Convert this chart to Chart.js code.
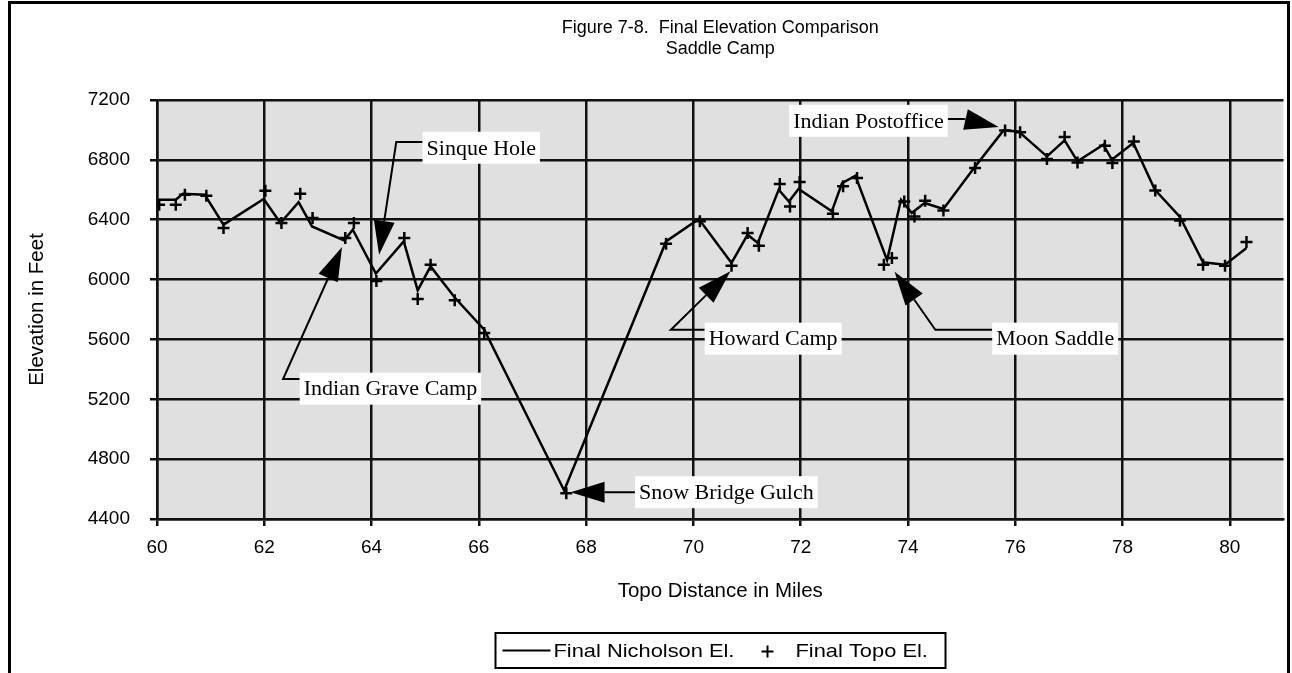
<!DOCTYPE html>
<html>
<head>
<meta charset="utf-8">
<title>Final Elevation Comparison - Saddle Camp</title>
<script src="https://cdn.jsdelivr.net/npm/chart.js@4.4.1/dist/chart.umd.min.js"></script>
<style>
  html, body { margin: 0; padding: 0; background: #fff; }
  canvas { display: block; }
</style>
</head>
<body>
<canvas id="elevChart" width="1292" height="673"></canvas>
<script>
// Nicholson profile (solid line)
const nicholsonMiles = [60.04, 60.35, 60.48, 60.89, 61.24, 61.99, 62.30, 62.64, 62.89, 63.49,
  63.65, 64.08, 64.60, 64.86, 65.10, 65.55, 66.10, 67.59, 69.49, 70.10,
  70.71, 71.01, 71.20, 71.59, 71.78, 71.96, 72.58, 72.77, 73.02, 73.61,
  73.87, 74.07, 74.31, 74.66, 75.22, 75.78, 76.06, 76.59, 76.92, 77.16,
  77.64, 77.80, 78.20, 78.60, 79.07, 79.50, 79.91, 80.31];
const nicholsonElev = [6534, 6534, 6574, 6567, 6367, 6538, 6378, 6518, 6355, 6262,
  6333, 6040, 6255, 5928, 6088, 5880, 5665, 4590, 6255, 6405,
  6111, 6300, 6244, 6601, 6522, 6605, 6456, 6645, 6694, 6130,
  6534, 6445, 6512, 6472, 6740, 6997, 6990, 6823, 6930, 6790,
  6901, 6801, 6913, 6601, 6418, 6115, 6099, 6211];

// Topo map elevations (+ markers)
const topoMiles = [60.04, 60.35, 60.52, 60.92, 61.24, 62.02, 62.32, 62.67, 62.90, 63.51,
  63.67, 64.09, 64.61, 64.86, 65.10, 65.55, 66.10, 67.63, 69.49, 70.12,
  70.71, 71.01, 71.22, 71.61, 71.80, 71.98, 72.60, 72.79, 73.05, 73.55,
  73.70, 73.93, 74.12, 74.32, 74.66, 75.25, 75.81, 76.09, 76.59, 76.92,
  77.16, 77.67, 77.81, 78.21, 78.61, 79.07, 79.50, 79.91, 80.31];
const topoElev = [6500, 6500, 6567, 6560, 6345, 6594, 6378, 6574, 6411, 6278,
  6378, 5990, 6278, 5870, 6099, 5861, 5643, 4572, 6240, 6389,
  6093, 6311, 6226, 6639, 6489, 6652, 6440, 6623, 6679, 6099,
  6144, 6522, 6422, 6527, 6462, 6746, 6997, 6984, 6806, 6953,
  6783, 6895, 6779, 6923, 6596, 6395, 6099, 6093, 6251];

const mileTicks = [60, 62, 64, 66, 68, 70, 72, 74, 76, 78, 80];
const elevTicks = [4400, 4800, 5200, 5600, 6000, 6400, 6800, 7200];

// place names: box edge, leader bends and arrow tip, all in miles / feet
const callouts = [
  { text: 'Sinque Hole', side: 'left', box: [64.95, 6881],
    leader: [[64.95, 6919], [64.46, 6919], [64.14, 6166]] },
  { text: 'Indian Grave Camp', side: 'left', box: [62.66, 5271],
    leader: [[62.66, 5335], [62.35, 5335], [63.45, 6218]] },
  { text: 'Snow Bridge Gulch', side: 'left', box: [68.91, 4579],
    leader: [[68.91, 4579], [67.71, 4578]] },
  { text: 'Howard Camp', side: 'left', box: [70.21, 5605],
    leader: [[70.21, 5665], [69.58, 5665], [70.69, 6055]] },
  { text: 'Moon Saddle', side: 'left', box: [75.57, 5605],
    leader: [[75.57, 5665], [74.51, 5665], [73.75, 6053]] },
  { text: 'Indian Postoffice', side: 'right', box: [74.74, 7061],
    leader: [[74.74, 7073], [75.04, 7073], [75.69, 7020]] }
];

const SANS = '"Liberation Sans", Arial, sans-serif';
const SERIF = '"Liberation Serif", "Times New Roman", serif';
const INK = '#111';

Chart.defaults.font.family = SANS;
Chart.defaults.color = '#000';

const plotBackground = {
  id: 'plotBackground',
  beforeDraw(chart) {
    const { ctx, chartArea: a } = chart;
    ctx.save();
    ctx.fillStyle = '#e0e0e0';
    ctx.fillRect(a.left, a.top, a.right - a.left, a.bottom - a.top);
    ctx.restore();
  }
};

const calloutLabels = {
  id: 'calloutLabels',
  afterDatasetsDraw(chart) {
    const { ctx, scales: { x, y } } = chart;
    ctx.save();
    ctx.strokeStyle = '#000';
    ctx.lineWidth = 2;
    ctx.font = '22px ' + SERIF;
    ctx.textBaseline = 'middle';
    callouts.forEach(c => {
      const pts = c.leader.map(p => [x.getPixelForValue(p[0]), y.getPixelForValue(p[1])]);
      const tip = pts[pts.length - 1];
      const prev = pts[pts.length - 2];
      const ang = Math.atan2(tip[1] - prev[1], tip[0] - prev[0]);
      const len = 34, half = 10.5;
      const bx = tip[0] - len * Math.cos(ang);
      const by = tip[1] - len * Math.sin(ang);

      ctx.beginPath();
      ctx.moveTo(pts[0][0], pts[0][1]);
      for (let i = 1; i < pts.length - 1; i++) ctx.lineTo(pts[i][0], pts[i][1]);
      ctx.lineTo(bx, by);
      ctx.stroke();

      ctx.fillStyle = '#000';
      ctx.beginPath();
      ctx.moveTo(tip[0], tip[1]);
      ctx.lineTo(bx + half * Math.sin(ang), by - half * Math.cos(ang));
      ctx.lineTo(bx - half * Math.sin(ang), by + half * Math.cos(ang));
      ctx.closePath();
      ctx.fill();

      const w = ctx.measureText(c.text).width + 8;
      const h = 32;
      const edge = x.getPixelForValue(c.box[0]);
      const cy = y.getPixelForValue(c.box[1]);
      const left = c.side === 'left' ? edge : edge - w;
      ctx.fillStyle = '#fff';
      ctx.fillRect(left, cy - h / 2, w, h);
      ctx.fillStyle = '#000';
      ctx.fillText(c.text, left + 4, cy + 1);
    });
    ctx.restore();
  }
};

// outer frame plus the boxed legend under the x axis title
const frameAndLegend = {
  id: 'frameAndLegend',
  afterDraw(chart) {
    const { ctx, height, chartArea: a } = chart;
    const [lineSet, topoSet] = chart.data.datasets;
    ctx.save();
    ctx.strokeStyle = '#000';
    ctx.lineWidth = 3;
    ctx.beginPath();
    ctx.moveTo(9.5, height);
    ctx.lineTo(9.5, 2.5);
    ctx.lineTo(1288.5, 2.5);
    ctx.lineTo(1288.5, height);
    ctx.stroke();

    const boxW = 450, boxH = 35;
    const left = Math.round((a.left + a.right) / 2 - boxW / 2) + 0.5;
    const cy = chart.scales.x.bottom + 19.5;
    ctx.lineWidth = 2;
    ctx.strokeRect(left, cy - boxH / 2, boxW, boxH);

    ctx.lineWidth = lineSet.borderWidth - 0.5;
    ctx.beginPath();
    ctx.moveTo(left + 7, cy);
    ctx.lineTo(left + 55, cy);
    ctx.stroke();

    ctx.lineWidth = 2;
    ctx.beginPath();
    ctx.moveTo(left + 266, cy + 1);
    ctx.lineTo(left + 278, cy + 1);
    ctx.moveTo(left + 272, cy - 5);
    ctx.lineTo(left + 272, cy + 7);
    ctx.stroke();

    ctx.fillStyle = '#000';
    ctx.font = '19px ' + SANS;
    ctx.textBaseline = 'middle';
    [[lineSet.label, left + 58], [topoSet.label, left + 300]].forEach(([txt, tx]) => {
      ctx.save();
      ctx.translate(tx, cy + 1);
      ctx.scale(1.15, 1);
      ctx.fillText(txt, 0, 0);
      ctx.restore();
    });
    ctx.restore();
  }
};

new Chart(document.getElementById('elevChart'), {
  type: 'scatter',
  data: {
    datasets: [{
      label: 'Final Nicholson El.',
      data: nicholsonMiles.map((m, i) => ({ x: m, y: nicholsonElev[i] })),
      showLine: true,
      borderColor: '#000',
      backgroundColor: '#000',
      borderWidth: 2.5,
      pointRadius: 0,
      tension: 0
    }, {
      label: 'Final Topo El.',
      data: topoMiles.map((m, i) => ({ x: m, y: topoElev[i] })),
      showLine: false,
      borderColor: '#000',
      backgroundColor: '#000',
      borderWidth: 2.5,
      pointStyle: 'cross',
      pointRadius: 6,
      pointBorderWidth: 2.5
    }]
  },
  options: {
    responsive: false,
    devicePixelRatio: 1,
    animation: false,
    layout: { padding: { left: 12, right: -1, top: 4, bottom: 42 } },
    plugins: {
      title: {
        display: true,
        fullSize: false,
        text: ['Figure 7-8.  Final Elevation Comparison', 'Saddle Camp'],
        color: '#000',
        font: { family: SANS, size: 18, weight: 'normal', lineHeight: 1.1667 },
        padding: { top: 13.5, bottom: 40.5 }
      },
      legend: { display: false },
      tooltip: { enabled: false }
    },
    scales: {
      x: {
        type: 'linear',
        min: 60,
        max: 81,
        afterBuildTicks: axis => { axis.ticks = mileTicks.map(v => ({ value: v })); },
        afterFit: axis => { axis.height = 112; },
        grid: { color: INK, lineWidth: 2.5, tickLength: 7 },
        border: { color: INK, width: 2.5 },
        ticks: { color: '#000', padding: 10, maxRotation: 0, font: { family: SANS, size: 19 } },
        title: {
          display: true,
          text: 'Topo Distance in Miles',
          color: '#000',
          font: { family: SANS, size: 20.5 },
          padding: { top: 0, bottom: 27.7 }
        }
      },
      y: {
        type: 'linear',
        min: 4400,
        max: 7200,
        afterBuildTicks: axis => { axis.ticks = elevTicks.map(v => ({ value: v })); },
        afterFit: axis => { axis.width = 145; },
        grid: { color: INK, lineWidth: 2.5, tickLength: 7 },
        border: { color: INK, width: 2.5 },
        ticks: {
          color: '#000',
          padding: 20,
          font: { family: SANS, size: 19 },
          callback: v => String(v)
        },
        title: {
          display: true,
          text: 'Elevation in Feet',
          color: '#000',
          font: { family: SANS, size: 20.5 },
          padding: { top: 12.7, bottom: 0 }
        }
      }
    }
  },
  plugins: [plotBackground, calloutLabels, frameAndLegend]
});
</script>
</body>
</html>
